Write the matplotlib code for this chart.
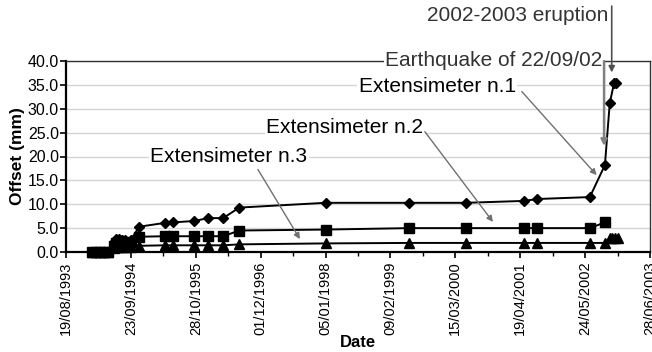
import pandas as pd
import matplotlib.pyplot as plt
import matplotlib.dates as mdates

plt.rcParams['font.family'] = ['Liberation Sans', 'DejaVu Sans']

# Extensimeter n.1 (diamonds)
dates_1 = ['1994-01-26', '1994-02-20', '1994-03-17', '1994-04-10', '1994-05-05',
           '1994-06-10', '1994-06-25', '1994-07-12', '1994-07-28', '1994-08-20',
           '1994-09-23', '1994-11-14', '1995-04-21', '1995-06-11', '1995-10-19',
           '1996-01-13', '1996-04-14', '1996-07-22', '1998-01-05', '1999-06-05',
           '2000-05-17', '2001-05-13', '2001-08-02', '2002-06-22', '2002-09-23',
           '2002-10-23', '2002-11-18', '2002-12-03']
offset_1 = [0.0, 0.0, 0.0, 0.0, 0.0,
            2.0, 2.7, 2.7, 2.6, 2.5,
            2.6, 5.3, 6.1, 6.2, 6.5,
            7.1, 7.1, 9.3, 10.3, 10.3,
            10.3, 10.7, 11.1, 11.5, 18.2,
            31.2, 35.3, 35.3]

# Extensimeter n.2 (squares)
dates_2 = ['1994-01-26', '1994-02-20', '1994-03-17', '1994-04-10', '1994-05-05',
           '1994-06-10', '1994-06-25', '1994-07-12', '1994-07-28', '1994-08-20',
           '1994-09-23', '1994-11-14', '1995-04-21', '1995-06-11', '1995-10-19',
           '1996-01-13', '1996-04-14', '1996-07-22', '1998-01-05', '1999-06-05',
           '2000-05-17', '2001-05-13', '2001-08-02', '2002-06-22', '2002-09-23']
offset_2 = [0.0, 0.0, 0.0, 0.0, 0.0,
            1.2, 1.8, 1.9, 1.8, 1.7,
            2.0, 3.2, 3.3, 3.3, 3.3,
            3.3, 3.3, 4.5, 4.7, 5.0,
            5.0, 5.0, 5.0, 5.0, 6.2]

# Extensimeter n.3 (triangles)
dates_3 = ['1994-01-26', '1994-02-20', '1994-03-17', '1994-04-10', '1994-05-05',
           '1994-06-10', '1994-06-25', '1994-07-12', '1994-07-28', '1994-08-20',
           '1994-09-23', '1994-11-14', '1995-04-21', '1995-06-11', '1995-10-19',
           '1996-01-13', '1996-04-14', '1996-07-22', '1998-01-05', '1999-06-05',
           '2000-05-17', '2001-05-13', '2001-08-02', '2002-06-22', '2002-09-23',
           '2002-10-23', '2002-11-08', '2002-11-25', '2002-12-12']
offset_3 = [0.0, 0.0, 0.0, 0.0, 0.0,
            0.8, 1.0, 1.0, 1.0, 1.0,
            1.1, 1.3, 1.4, 1.4, 1.4,
            1.4, 1.4, 1.6, 1.8, 1.9,
            1.9, 1.9, 1.9, 1.9, 1.9,
            2.9, 3.0, 3.0, 2.9]

x_start, x_end = '1993-08-19', '2003-06-28'
tick_step_days = 400

fig = plt.figure(figsize=(6.52, 3.52), dpi=100)
ax = fig.add_axes([66 / 652, 100 / 352, 584 / 652, 191 / 352])

ax.plot(pd.to_datetime(dates_1), offset_1, color='black', lw=1.4,
        marker='D', ms=5.5, zorder=5, clip_on=False)
ax.plot(pd.to_datetime(dates_2), offset_2, color='black', lw=1.4,
        marker='s', ms=6.5, zorder=5, clip_on=False)
ax.plot(pd.to_datetime(dates_3), offset_3, color='black', lw=1.4,
        marker='^', ms=6.5, zorder=5, clip_on=False)

# assi
t0, t1 = pd.Timestamp(x_start), pd.Timestamp(x_end)
ax.set_xlim(t0, t1)
ax.set_ylim(0, 40)
major = pd.date_range(t0, t1, freq=f'{tick_step_days}D')
minor = pd.date_range(t0, t1, freq=f'{tick_step_days // 2}D')
ax.set_xticks(major)
ax.set_xticks(minor, minor=True)
ax.xaxis.set_major_formatter(mdates.DateFormatter('%d/%m/%Y'))
ax.set_yticks(range(0, 41, 5))
ax.set_yticklabels([f'{v:.1f}' for v in range(0, 41, 5)])
ax.tick_params(axis='x', labelrotation=90, labelsize=10.5, direction='out',
               length=4, width=1.2, color='black', pad=3)
ax.tick_params(axis='x', which='minor', length=3, width=1)
ax.tick_params(axis='y', labelsize=11.5, direction='out', length=4,
               width=1.2, pad=1)
ax.yaxis.grid(True, color='#d4d4d4', lw=1)
ax.set_axisbelow(True)
for side in ['left', 'bottom']:
    ax.spines[side].set_linewidth(1.6)
for side in ['top', 'right']:
    ax.spines[side].set_linewidth(1.0)
    ax.spines[side].set_color('#333333')

ax.set_ylabel('Offset (mm)', fontsize=12.5, fontweight='bold', labelpad=2)
ax.set_xlabel('Date', fontsize=12, fontweight='bold', labelpad=0)

# etichette e frecce
box = dict(facecolor='white', edgecolor='none', pad=1)
arrow = dict(arrowstyle='-|>', color='#707070', lw=1.0, mutation_scale=9,
             shrinkA=0, shrinkB=0)

ax.text(pd.Timestamp('1996-05-20'), 19.9, 'Extensimeter n.3', fontsize=15,
        ha='center', va='center', bbox=box, zorder=6)
ax.annotate('', xy=(pd.Timestamp('1997-07-31'), 2.7),
            xytext=(pd.Timestamp('1996-11-14'), 17.3), arrowprops=arrow, zorder=6)

ax.text(pd.Timestamp('1998-05-04'), 26.0, 'Extensimeter n.2', fontsize=15,
        ha='center', va='center', bbox=box, zorder=6)
ax.annotate('', xy=(pd.Timestamp('2000-11-02'), 6.3),
            xytext=(pd.Timestamp('1999-09-09'), 25.2), arrowprops=arrow, zorder=6)

ax.text(pd.Timestamp('1999-11-24'), 34.7, 'Extensimeter n.1', fontsize=15,
        ha='center', va='center', bbox=box, zorder=6)
ax.annotate('', xy=(pd.Timestamp('2002-08-03'), 16.1),
            xytext=(pd.Timestamp('2001-04-29'), 33.6), arrowprops=arrow, zorder=6)

ax.text(pd.Timestamp('2000-11-08'), 40.0, 'Earthquake of 22/09/02', fontsize=15,
        ha='center', va='center', color='#333333', bbox=box, zorder=6,
        clip_on=False)
ax.annotate('', xy=(pd.Timestamp('2002-09-18'), 22.2),
            xytext=(pd.Timestamp('2002-09-18'), 40.0),
            arrowprops=dict(arrowstyle='-|>', color='#808080', lw=1.8,
                            mutation_scale=9, shrinkA=0, shrinkB=0),
            annotation_clip=False, zorder=6)

ax.text(pd.Timestamp('2001-04-05'), 49.5, '2002-2003 eruption', fontsize=15,
        ha='center', va='center', color='#333333', clip_on=False)
ax.annotate('', xy=(pd.Timestamp('2002-11-04'), 37.6),
            xytext=(pd.Timestamp('2002-11-04'), 51.5),
            arrowprops=dict(arrowstyle='-|>', color='#505050', lw=1.2,
                            mutation_scale=9, shrinkA=0, shrinkB=0),
            annotation_clip=False, zorder=6)

fig.savefig('out.png', dpi=100)
